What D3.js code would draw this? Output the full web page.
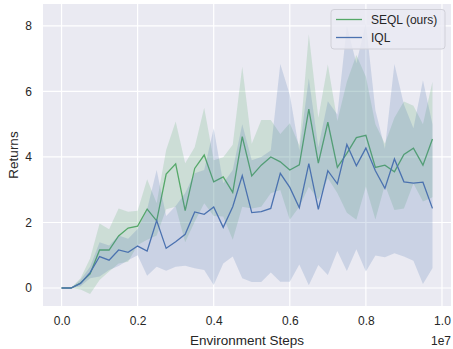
<!DOCTYPE html>
<html>
<head>
<meta charset="utf-8">
<script src="https://cdn.jsdelivr.net/npm/d3@7"></script>
<style>
  body { margin: 0; background: #fff; }
  svg { display: block; font-family: "Liberation Sans", Arial, sans-serif; }
</style>
</head>
<body>
<svg id="chart" width="453" height="349"></svg>
<script>
// environment steps, one point every 0.025e7
const steps = d3.range(40).map(i => i * 250000);

const seqlMean = [0, 0, 0.15, 0.43, 1.16, 1.16, 1.59, 1.83, 1.89, 2.41,
  2.05, 3.48, 3.79, 2.36, 3.65, 4.06, 3.24, 3.39, 2.92, 4.62,
  3.42, 3.75, 4.0, 3.85, 3.6, 3.76, 5.46, 3.81, 5.06, 3.68,
  4.11, 4.59, 4.66, 3.68, 3.75, 3.55, 4.08, 4.27, 3.75, 4.55];
const seqlLow = [0, 0, -0.05, -0.18, 0.24, 0.5, 0.75, 0.8, 1.31, 1.47,
  1.6, 2.4, 2.48, 1.4, 2.02, 2.59, 2.2, 2.18, 1.47, 2.48,
  2.43, 2.48, 2.89, 2.99, 2.08, 2.48, 3.09, 2.69, 3.35, 2.9,
  2.3, 2.08, 3.1, 2.09, 3.15, 2.38, 2.43, 3.19, 2.64, 2.77];
const seqlHigh = [0, 0, 0.3, 0.9, 1.97, 1.79, 2.43, 2.33, 2.36, 3.32,
  2.59, 4.21, 5.08, 3.81, 4.3, 5.5, 3.9, 3.99, 4.37, 6.76,
  4.4, 5.13, 5.13, 4.7, 5.03, 4.35, 7.75, 5.2, 6.82, 5.1,
  6.3, 7.11, 6.45, 5.0, 4.4, 5.2, 5.69, 5.56, 5.0, 6.3];

const iqlMean = [0, 0, 0.14, 0.47, 0.96, 0.85, 1.16, 1.09, 1.28, 1.13,
  2.06, 1.21, 1.41, 1.64, 2.32, 2.25, 2.47, 1.85, 2.48, 3.43,
  2.3, 2.33, 2.43, 3.5, 3.07, 2.45, 3.8, 2.4, 3.58, 3.18,
  4.38, 3.73, 4.27, 3.58, 3.04, 3.94, 3.24, 3.2, 3.23, 2.43];
const iqlLow = [0, 0, 0.05, 0.3, 0.35, 0.55, 0.67, 0.85, 1.0, 0.37,
  0.65, 0.53, 0.65, 0.68, 0.6, 0.55, 0.09, 0.75, 0.96, 0.3,
  0.18, 0.18, 0.47, 0.19, 0.19, 0.72, 0.08, 0.7, 0.4, 1.13,
  0.52, 1.18, 0.5, 0.99, 0.94, 1.06, 0.96, 0.83, 0.12, 0.6];
const iqlHigh = [0, 0, 0.25, 0.65, 1.4, 1.3, 1.6, 1.5, 1.8, 2.4,
  3.6, 2.2, 2.5, 2.9, 3.5, 3.6, 4.88, 3.2, 3.6, 5.0,
  3.9, 4.0, 4.2, 6.84, 5.9, 4.2, 6.4, 4.3, 5.7, 5.3,
  8.0, 6.86, 8.08, 5.43, 4.25, 6.84, 5.6, 4.88, 6.34, 5.0];

const xTicks = [0, 2e6, 4e6, 6e6, 8e6, 1e7];
const yTicks = [0, 2, 4, 6, 8];

const series = [
  { name: "SEQL (ours)", color: "#55a868", mean: seqlMean, low: seqlLow, high: seqlHigh },
  { name: "IQL", color: "#4c72b0", mean: iqlMean, low: iqlLow, high: iqlHigh }
];

const margin = { top: 4, right: 2, bottom: 43, left: 43 };
const width = 453 - margin.left - margin.right;
const height = 349 - margin.top - margin.bottom;

const svg = d3.select("#chart");
const g = svg.append("g").attr("transform", `translate(${margin.left},${margin.top})`);

const x = d3.scaleLinear().domain([-0.04875e7, 1.02375e7]).range([0, width]);
const y = d3.scaleLinear().domain([-0.55, 8.67]).range([height, 0]);

g.append("rect")
  .attr("width", width)
  .attr("height", height)
  .attr("fill", "#eaeaf2");

// grid
g.append("g").selectAll("line")
  .data(xTicks)
  .join("line")
  .attr("x1", d => x(d)).attr("x2", d => x(d))
  .attr("y1", 0).attr("y2", height)
  .attr("stroke", "#fff").attr("stroke-width", 1.2);

g.append("g").selectAll("line")
  .data(yTicks)
  .join("line")
  .attr("y1", d => y(d)).attr("y2", d => y(d))
  .attr("x1", 0).attr("x2", width)
  .attr("stroke", "#fff").attr("stroke-width", 1.2);

// bands and lines
series.forEach(s => {
  const pts = steps.map((st, i) => ({ x: st, m: s.mean[i], lo: s.low[i], hi: s.high[i] }));

  g.append("path")
    .datum(pts)
    .attr("fill", "none")
    .attr("stroke", s.color)
    .attr("stroke-width", 1.3)
    .attr("d", d3.line().x(d => x(d.x)).y(d => y(d.m)));

  g.append("path")
    .datum(pts)
    .attr("fill", s.color)
    .attr("fill-opacity", 0.2)
    .attr("d", d3.area().x(d => x(d.x)).y0(d => y(d.lo)).y1(d => y(d.hi)));
});

// axes
const xAxis = g.append("g")
  .attr("transform", `translate(0,${height})`)
  .call(d3.axisBottom(x).tickValues(xTicks).tickSize(0).tickPadding(10)
    .tickFormat(d => (d / 1e7).toFixed(1)));
const yAxis = g.append("g")
  .call(d3.axisLeft(y).tickValues(yTicks).tickSize(0).tickPadding(11)
    .tickFormat(d3.format("d")));

[xAxis, yAxis].forEach(a => {
  a.select(".domain").remove();
  a.selectAll("text")
    .attr("fill", "#262626")
    .style("font-size", "12px")
    .style("font-family", "'Liberation Sans', Arial, sans-serif");
});

svg.append("text")
  .attr("x", margin.left + width / 2)
  .attr("y", 345)
  .attr("text-anchor", "middle")
  .attr("fill", "#262626")
  .style("font-size", "13.5px")
  .text("Environment Steps");

svg.append("text")
  .attr("x", 451)
  .attr("y", 345)
  .attr("text-anchor", "end")
  .attr("fill", "#262626")
  .style("font-size", "12px")
  .text("1e7");

svg.append("text")
  .attr("transform", `translate(18,${margin.top + height / 2}) rotate(-90)`)
  .attr("text-anchor", "middle")
  .attr("fill", "#262626")
  .style("font-size", "13.5px")
  .text("Returns");

// legend
const legend = svg.append("g").attr("transform", "translate(331,9.5)");
legend.append("rect")
  .attr("width", 114)
  .attr("height", 39.5)
  .attr("rx", 3)
  .attr("fill", "#eaeaf2")
  .attr("fill-opacity", 0.8)
  .attr("stroke", "#d0d0d8")
  .attr("stroke-width", 1);

series.forEach((s, i) => {
  const row = legend.append("g").attr("transform", `translate(0,${10 + i * 18})`);
  row.append("line")
    .attr("x1", 5).attr("x2", 31)
    .attr("stroke", s.color)
    .attr("stroke-width", 1.3);
  row.append("text")
    .attr("x", 40)
    .attr("y", 4.3)
    .attr("fill", "#262626")
    .style("font-size", "12px")
    .text(s.name);
});
</script>
</body>
</html>
